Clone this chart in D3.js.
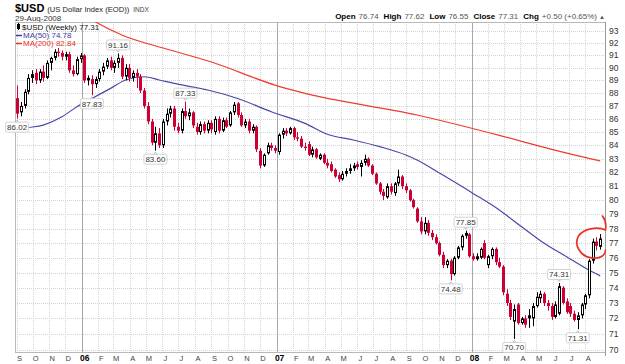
<!DOCTYPE html>
<html>
<head>
<meta charset="utf-8">
<script src="https://cdn.jsdelivr.net/npm/d3@7"></script>
<style>
  body { margin: 0; background: #fff; }
  text { font-family: Arial, "Liberation Sans", sans-serif; }
</style>
</head>
<body>
<div id="chart"></div>
<script>
// weekly bars, first bar = week ending 2-Sep-2005
const firstWeek = new Date(2005, 8, 2);

const opens = [
  87.6, 86.5, 87.0, 88.1, 89.2, 89.6, 89.0, 89.7, 89.2, 90.4,
  90.8, 91.3, 91.2, 90.9, 91.1, 89.8, 89.5, 90.7, 91.0, 89.0,
  89.1, 88.7, 89.1, 89.7, 90.1, 90.6, 90.0, 90.4, 90.8, 89.3,
  90.0, 89.2, 89.6, 89.3, 88.2, 87.0, 85.8, 84.2, 84.9, 84.0,
  85.8, 86.4, 86.8, 85.4, 85.1, 86.6, 86.2, 86.5, 85.4, 85.0,
  85.6, 85.1, 85.7, 85.0, 86.0, 85.1, 85.9, 85.5, 86.5, 87.2,
  86.3, 85.5, 85.8, 85.1, 85.4, 83.6, 82.5, 83.4, 84.0, 83.8,
  83.5, 84.8, 85.1, 84.9, 85.3, 84.6, 84.5, 83.9, 84.1, 83.3,
  83.7, 83.0, 83.3, 82.7, 82.6, 82.2, 81.8, 81.5, 81.9, 82.1,
  82.3, 82.6, 82.4, 82.7, 83.0, 82.5, 81.9, 81.2, 80.6, 80.2,
  81.0, 80.5, 81.2, 81.7, 81.0, 80.7, 80.0, 79.4, 78.5, 77.8,
  78.4, 77.7, 77.4, 77.0, 76.2, 75.5, 75.8, 74.9, 76.0, 76.7,
  77.5, 77.6, 76.1, 75.9, 76.0, 77.0, 75.5, 76.1, 76.6, 75.7,
  75.4, 73.6, 73.0, 71.8, 72.9, 71.7, 72.0, 72.2, 72.0, 72.8,
  73.3, 73.6, 73.0, 72.8, 72.1, 72.3, 74.0, 73.1, 72.8, 72.3,
  71.9, 72.2, 72.9, 73.5, 75.8, 77.1, 76.74
];
const highs = [
  88.6, 87.3, 88.3, 89.5, 89.8, 89.9, 89.9, 90.2, 90.6, 90.9,
  91.5, 91.6, 91.4, 91.3, 91.3, 90.2, 90.9, 91.2, 91.1, 89.4,
  89.4, 89.3, 89.9, 90.4, 90.8, 90.9, 90.6, 91.16, 91.0, 90.3,
  90.3, 89.8, 89.9, 89.5, 88.4, 87.3, 86.0, 85.4, 85.3, 86.0,
  86.8, 87.0, 87.0, 85.7, 86.8, 87.33, 86.8, 86.6, 85.7, 85.8,
  85.8, 85.9, 85.9, 86.2, 86.2, 86.1, 86.1, 86.6, 87.3, 87.3,
  86.5, 86.0, 86.0, 85.6, 85.5, 83.8, 83.4, 84.2, 84.2, 84.0,
  84.9, 85.3, 85.3, 85.4, 85.4, 85.0, 84.7, 84.2, 84.3, 83.9,
  83.8, 83.4, 83.4, 83.0, 82.8, 82.3, 82.0, 82.1, 82.3, 82.6,
  82.7, 82.8, 82.9, 83.3, 83.1, 82.6, 82.0, 81.3, 80.8, 81.2,
  81.2, 81.3, 82.2, 81.8, 81.2, 80.8, 80.1, 79.5, 78.8, 78.8,
  78.6, 77.9, 77.6, 77.1, 76.4, 75.9, 75.9, 76.1, 76.8, 77.6,
  77.85, 77.7, 76.3, 76.3, 76.7, 77.2, 76.2, 76.7, 76.7, 76.0,
  75.5, 73.9, 73.2, 72.9, 73.0, 72.1, 72.2, 72.6, 73.0, 73.7,
  73.8, 73.7, 73.2, 73.0, 73.1, 74.31, 74.1, 73.3, 73.0, 72.5,
  72.4, 73.0, 73.6, 75.9, 77.3, 77.4, 77.62
];
const lows = [
  86.02, 86.2, 86.8, 87.9, 88.8, 88.7, 88.8, 88.9, 89.1, 89.8,
  90.6, 90.9, 90.6, 90.6, 89.6, 89.3, 89.4, 90.4, 88.8, 88.6,
  87.83, 88.4, 88.9, 89.4, 89.9, 89.8, 89.6, 90.0, 89.1, 89.0,
  88.9, 88.9, 88.4, 88.0, 86.8, 85.6, 84.0, 83.60, 83.8, 83.8,
  85.5, 86.1, 85.1, 84.9, 84.9, 86.0, 85.9, 85.3, 84.8, 84.8,
  84.9, 84.9, 84.9, 84.8, 84.9, 85.0, 85.3, 85.4, 86.3, 86.1,
  85.4, 85.3, 84.9, 84.9, 83.5, 82.3, 82.4, 83.3, 83.6, 83.4,
  83.3, 84.5, 84.7, 84.8, 84.4, 84.3, 83.8, 83.6, 83.2, 83.1,
  83.0, 82.9, 82.6, 82.3, 82.0, 81.6, 81.3, 81.4, 81.7, 81.9,
  82.1, 82.2, 81.7, 82.5, 82.4, 81.8, 81.1, 80.4, 80.0, 80.1,
  80.4, 80.3, 81.0, 80.8, 80.5, 79.9, 79.4, 78.4, 77.6, 77.6,
  77.5, 77.2, 76.9, 76.1, 75.3, 75.3, 74.48, 74.8, 75.9, 76.5,
  77.3, 76.0, 75.8, 75.8, 75.9, 75.9, 75.3, 75.9, 75.5, 75.3,
  73.5, 72.8, 71.9, 70.70, 71.6, 71.6, 71.4, 71.4, 71.5, 72.7,
  73.0, 72.8, 72.5, 71.9, 72.0, 72.2, 72.9, 72.3, 72.1, 71.8,
  71.31, 72.0, 72.6, 73.3, 75.6, 76.5, 76.55
];
const closes = [
  86.4, 87.0, 88.1, 89.2, 89.5, 89.0, 89.7, 89.2, 90.4, 90.8,
  91.3, 91.2, 90.9, 91.1, 89.8, 89.5, 90.7, 91.0, 89.0, 89.2,
  88.7, 89.1, 89.7, 90.1, 90.6, 90.0, 90.4, 90.8, 89.3, 90.0,
  89.2, 89.6, 89.3, 88.2, 87.0, 85.8, 84.2, 84.9, 84.0, 85.8,
  86.4, 86.8, 85.4, 85.1, 86.6, 86.2, 86.5, 85.5, 85.0, 85.6,
  85.1, 85.7, 85.2, 86.0, 85.1, 85.9, 85.4, 86.5, 87.1, 86.3,
  85.5, 85.8, 85.1, 85.4, 83.7, 82.5, 83.3, 84.0, 83.8, 83.6,
  84.8, 85.1, 84.9, 85.3, 84.6, 84.5, 83.9, 83.8, 83.3, 83.7,
  83.1, 83.3, 82.7, 82.5, 82.1, 81.7, 81.5, 81.9, 82.1, 82.3,
  82.5, 82.4, 82.7, 83.0, 82.5, 81.9, 81.2, 80.6, 80.3, 81.0,
  80.6, 81.2, 81.7, 81.0, 80.7, 80.0, 79.5, 78.5, 77.8, 78.4,
  77.7, 77.4, 77.0, 76.2, 75.5, 75.8, 74.9, 76.0, 76.7, 77.5,
  77.7, 76.1, 75.9, 76.1, 76.6, 76.0, 76.1, 76.6, 75.7, 75.4,
  73.7, 73.0, 72.1, 72.6, 71.7, 72.0, 71.6, 72.0, 72.8, 73.4,
  73.6, 73.0, 72.8, 72.1, 72.9, 74.1, 73.0, 72.4, 72.3, 71.9,
  72.2, 72.9, 73.5, 75.8, 77.1, 76.81, 77.31
];

// moving averages: [week index, value]
const ma50Weeks = [0, 2, 7, 12, 16, 20, 25, 29, 34, 38, 43, 51, 59, 68, 77, 83, 90, 97, 104, 107, 113, 122, 129, 135, 141, 147, 153, 156];
const ma50Values = [85.15, 85.29, 85.53, 86.16, 86.94, 87.58, 88.37, 89.03, 89.29, 89.03, 88.70, 88.24, 87.58, 86.55, 85.66, 84.83, 84.40, 83.90, 83.28, 82.91, 81.95, 80.48, 79.30, 78.12, 76.98, 76.07, 75.17, 74.78];
const ma200Weeks = [14, 21, 28, 40, 52, 69, 76, 107, 129, 143, 156];
const ma200Values = [95.2, 93.75, 92.67, 91.52, 90.47, 88.63, 88.05, 86.30, 84.75, 83.70, 82.84];

// swing labels
const swingWeeks = [0, 20, 27, 37, 45, 116, 120, 133, 145, 150];
const swingValues = [86.02, 87.83, 91.16, 83.60, 87.33, 74.48, 77.85, 70.70, 74.31, 71.31];
const swingSides = ["below", "below", "above", "below", "above", "below", "above", "below", "above", "below"];

const priceTicks = d3.range(70, 94);
const monthLetters = ["J", "F", "M", "A", "M", "J", "J", "A", "S", "O", "N", "D"];

const W = 625, H = 364;
const plot = { left: 15, right: 605, top: 22, bottom: 352 };

const weekDate = i => d3.timeDay.offset(firstWeek, 7 * i);

const x = d3.scaleTime()
  .domain([new Date(2005, 7, 29), new Date(2008, 8, 7)])
  .range([plot.left, plot.right]);

const y = d3.scaleLog()
  .domain([69.88, 93.75])
  .range([plot.bottom, plot.top]);

const svg = d3.select("#chart").append("svg")
  .attr("width", W)
  .attr("height", H)
  .style("display", "block");

svg.append("rect").attr("width", W).attr("height", H).attr("fill", "#fff");

svg.append("clipPath").attr("id", "plotclip")
  .append("rect")
  .attr("x", plot.left).attr("y", plot.top)
  .attr("width", plot.right - plot.left).attr("height", plot.bottom - plot.top);

// header
const head = svg.append("text").attr("x", 15).attr("y", 12);
head.append("tspan").attr("font-size", 11).attr("font-weight", "bold").text("$USD");
head.append("tspan").attr("font-size", 7.6).attr("dx", 3).attr("fill", "#222").text("(US Dollar Index (EOD))");
head.append("tspan").attr("font-size", 6.5).attr("dx", 4).attr("fill", "#444").text("INDX");

svg.append("text").attr("x", 15).attr("y", 21)
  .attr("font-size", 8).attr("fill", "#333").text("29-Aug-2008");

const quote = svg.append("text").attr("x", 597).attr("y", 19)
  .attr("text-anchor", "end").attr("font-size", 8);
[["Open", "76.74"], ["High", "77.62"], ["Low", "76.55"], ["Close", "77.31"], ["Chg", "+0.50 (+0.65%)"]]
  .forEach((d, i) => {
    quote.append("tspan").attr("font-weight", "bold").attr("dx", i ? 5 : 0).text(d[0]);
    quote.append("tspan").attr("fill", "#555").attr("dx", 3).text(d[1]);
  });
svg.append("text").attr("x", 599).attr("y", 18.5)
  .attr("font-size", 6).attr("fill", "#555").text("\u25B2");

// grid
const grid = svg.append("g");
grid.selectAll(".hg").data(priceTicks).enter().append("line")
  .attr("x1", plot.left).attr("x2", plot.right)
  .attr("y1", d => Math.round(y(d)) + 0.5).attr("y2", d => Math.round(y(d)) + 0.5)
  .attr("stroke", "#d4d4d4").attr("stroke-dasharray", "1,1");

const months = d3.timeMonth.range(new Date(2005, 8, 1), new Date(2008, 8, 1));
grid.selectAll(".vg").data(months).enter().append("line")
  .attr("x1", d => Math.round(x(d)) + 0.5).attr("x2", d => Math.round(x(d)) + 0.5)
  .attr("y1", plot.top).attr("y2", plot.bottom)
  .attr("stroke", d => d.getMonth() === 0 ? "#a8a8a8" : "#d4d4d4")
  .attr("stroke-dasharray", d => d.getMonth() === 0 ? null : "1,1");

// frame
svg.append("rect")
  .attr("x", plot.left + 0.5).attr("y", plot.top + 0.5)
  .attr("width", plot.right - plot.left).attr("height", plot.bottom - plot.top)
  .attr("fill", "none").attr("stroke", "#b8b8b8");
svg.append("line")
  .attr("x1", plot.right + 0.5).attr("x2", plot.right + 0.5)
  .attr("y1", plot.top).attr("y2", plot.bottom + 4)
  .attr("stroke", "#999");

// axes labels
svg.append("g").selectAll("text").data(priceTicks).enter().append("text")
  .attr("x", plot.right + 4).attr("y", d => y(d) + 3)
  .attr("font-size", 8.5).attr("fill", "#333")
  .text(d => d);

svg.append("g").selectAll("text").data(months).enter().append("text")
  .attr("x", d => x(d) + 3)
  .attr("y", 361)
  .attr("text-anchor", "middle")
  .attr("font-size", d => d.getMonth() === 0 ? 8.5 : 7.5)
  .attr("font-weight", d => d.getMonth() === 0 ? "bold" : null)
  .attr("fill", d => d.getMonth() === 0 ? "#000" : "#444")
  .text(d => d.getMonth() === 0 ? d3.timeFormat("%y")(d) : monthLetters[d.getMonth()]);

// moving averages
const body = svg.append("g").attr("clip-path", "url(#plotclip)");

const maLine = d3.line()
  .x(d => x(weekDate(d[0])))
  .y(d => y(d[1]))
  .curve(d3.curveMonotoneX);

body.append("path")
  .datum(ma200Weeks.map((w, i) => [w, ma200Values[i]]))
  .attr("d", maLine)
  .attr("fill", "none").attr("stroke", "#ee3b30").attr("stroke-width", 1.2);

body.append("path")
  .datum(ma50Weeks.map((w, i) => [w, ma50Values[i]]))
  .attr("d", maLine)
  .attr("fill", "none").attr("stroke", "#4848a8").attr("stroke-width", 1.2);

// candles
const RED = "#cc0033";
const bars = closes.map((c, i) => ({
  i, o: opens[i], h: highs[i], l: lows[i], c,
  down: i > 0 ? c < closes[i - 1] : c < opens[i]
}));

const candle = body.selectAll(".candle").data(bars).enter().append("g");

candle.append("line")
  .attr("x1", d => Math.round(x(weekDate(d.i))) + 0.5)
  .attr("x2", d => Math.round(x(weekDate(d.i))) + 0.5)
  .attr("y1", d => y(d.h)).attr("y2", d => y(d.l))
  .attr("stroke", d => d.down ? RED : "#000");

candle.append("rect")
  .attr("x", d => Math.round(x(weekDate(d.i))) - (d.c < d.o ? 1 : 0.5))
  .attr("y", d => y(Math.max(d.o, d.c)) + (d.c < d.o ? 0 : 0.5))
  .attr("width", d => d.c < d.o ? 3 : 2)
  .attr("height", d => Math.max(1, Math.abs(y(d.o) - y(d.c)) - (d.c < d.o ? 0 : 1)))
  .attr("fill", d => d.c < d.o ? (d.down ? RED : "#000") : "#fff")
  .attr("stroke", d => d.c < d.o ? "none" : (d.down ? RED : "#000"))
  .attr("stroke-width", 1);

// hand-drawn circle round the last bars
const cx = x(weekDate(155)), cy = y(77.0);
const loop = d3.path();
loop.moveTo(cx + 6, cy - 27);
loop.bezierCurveTo(cx + 9, cy - 23, cx + 10, cy - 18, cx + 9, cy - 13);
loop.bezierCurveTo(cx + 3, cy - 16, cx - 12, cy - 16, cx - 18, cy - 7);
loop.bezierCurveTo(cx - 23, cy + 2, cx - 16, cy + 14, cx - 4, cy + 15);
loop.bezierCurveTo(cx + 4, cy + 16, cx + 9, cy + 12, cx + 9, cy + 7);
svg.append("path").attr("d", loop.toString())
  .attr("fill", "none").attr("stroke", "#e8322a").attr("stroke-width", 1.7)
  .attr("stroke-linecap", "round");

// swing labels
const tags = svg.append("g").selectAll("g")
  .data(swingWeeks.map((w, i) => ({ w, v: swingValues[i], side: swingSides[i] })))
  .enter().append("g")
  .attr("transform", d => {
    const px = Math.max(13, x(weekDate(d.w)));
    const py = y(d.v) + (d.side === "above" ? -8.5 : 8.5);
    return `translate(${px},${py})`;
  });

tags.append("path")
  .attr("d", d => d.side === "above" ? "M-2,4.5L0,7L2,4.5Z" : "M-2,-4.5L0,-7L2,-4.5Z")
  .attr("fill", "#fff").attr("stroke", "#aaa").attr("stroke-width", 0.8);
tags.append("rect")
  .attr("x", -11.5).attr("y", -5).attr("width", 23).attr("height", 10)
  .attr("rx", 1.5).attr("fill", "#fff").attr("stroke", "#c8c8c8").attr("stroke-width", 0.8);
tags.append("text")
  .attr("text-anchor", "middle").attr("y", 3)
  .attr("font-size", 8).attr("fill", "#333")
  .text(d => d.v.toFixed(2));

// legend in plot
const leg = svg.append("g");
leg.append("rect").attr("x", 17).attr("y", 24).attr("width", 3).attr("height", 5).attr("fill", "#000");
leg.append("line").attr("x1", 18.5).attr("x2", 18.5).attr("y1", 23).attr("y2", 30).attr("stroke", "#000");
leg.append("text").attr("x", 22).attr("y", 30)
  .attr("font-family", "'Liberation Mono', 'DejaVu Sans Mono', monospace")
  .attr("font-size", 8).attr("fill", "#111")
  .text("$USD (Weekly) 77.31");
[["MA(50) 74.78", "#3a3aa0", 38], ["MA(200) 82.84", "#e8322a", 46]].forEach(d => {
  leg.append("line").attr("x1", 16).attr("x2", 22).attr("y1", d[2] - 2.5).attr("y2", d[2] - 2.5)
    .attr("stroke", d[1]).attr("stroke-width", 1.5);
  leg.append("text").attr("x", 23).attr("y", d[2])
    .attr("font-size", 8).attr("fill", d[1]).text(d[0]);
});
</script>
</body>
</html>
